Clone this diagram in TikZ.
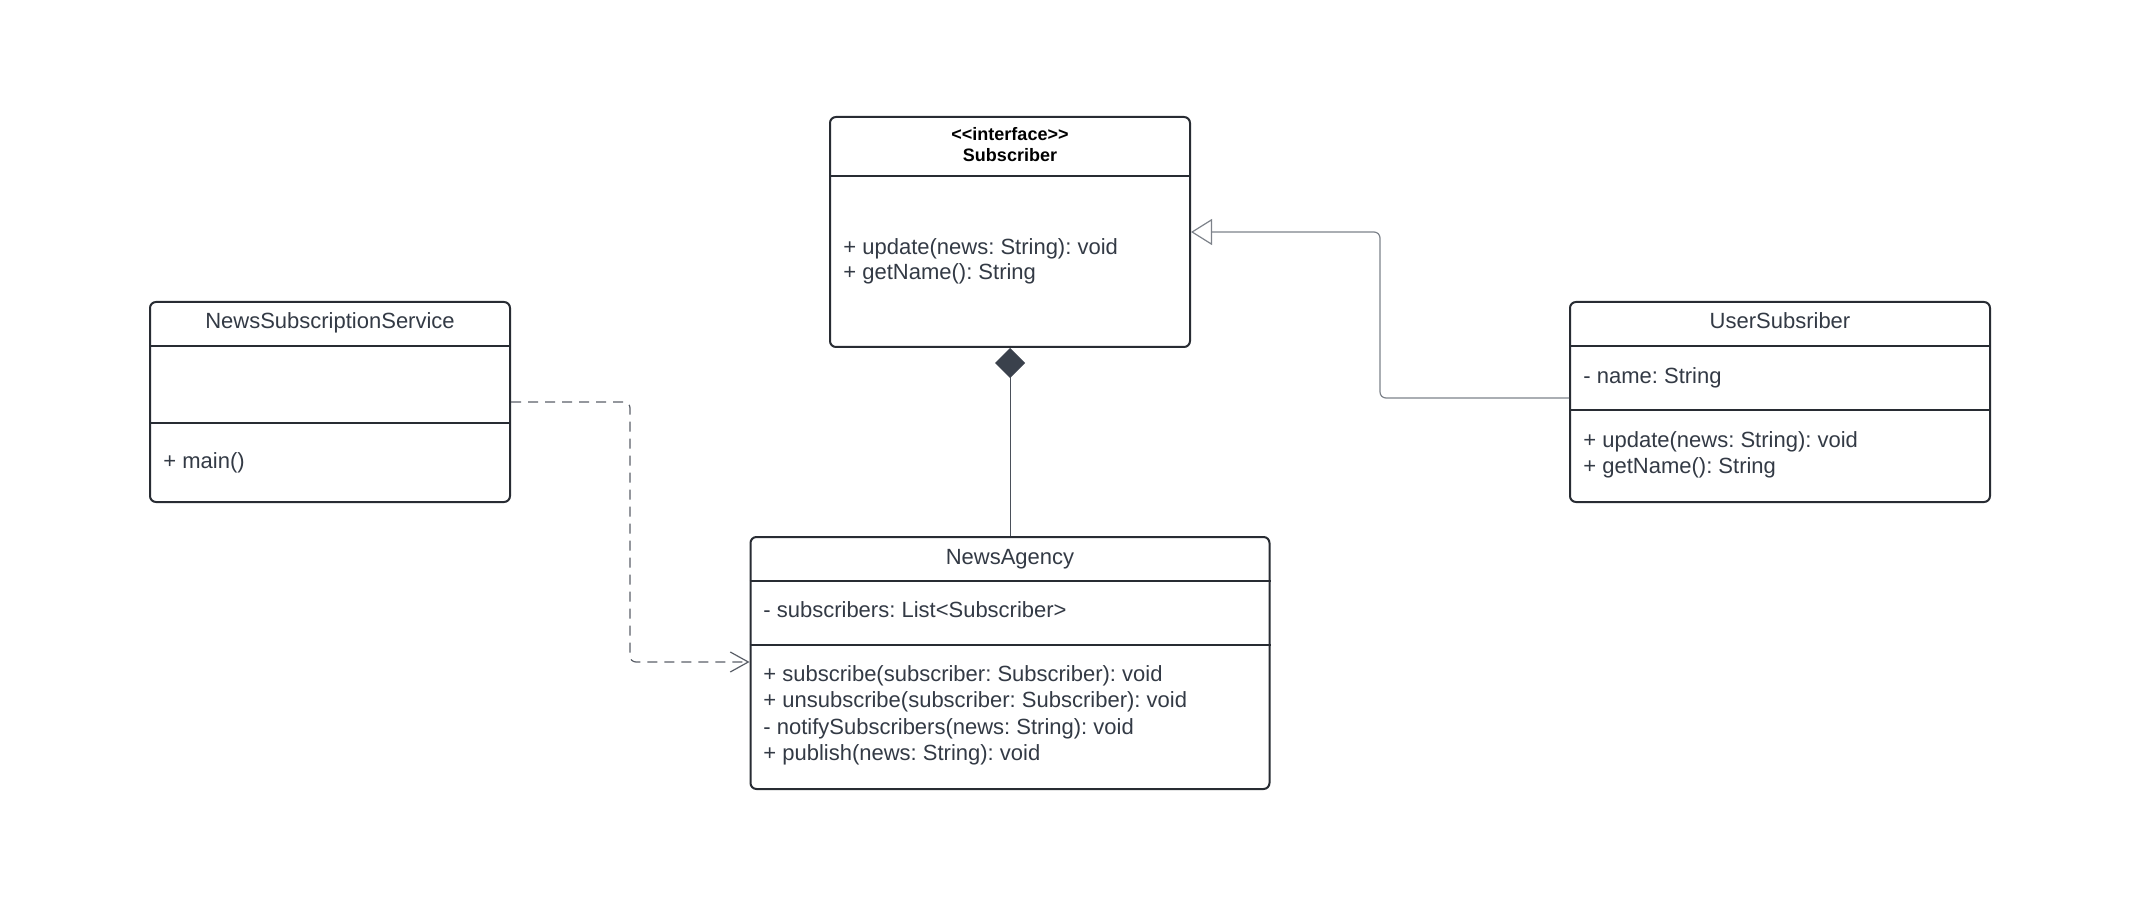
\documentclass[tikz,border=0pt]{standalone}
\usepackage{fontspec}
\setmainfont{Liberation Sans}
\usetikzlibrary{arrows.meta}
\frenchspacing

\definecolor{edge}{HTML}{282C33}
\definecolor{ink}{HTML}{333A45}
\definecolor{diamondfill}{HTML}{3A414C}
\definecolor{genline}{HTML}{7D828A}
\definecolor{depline}{HTML}{5A5F68}
\definecolor{compline}{HTML}{4A505A}

\tikzset{
  classbox/.style={draw=edge, line width=1pt, rounded corners=3pt, fill=white, inner sep=0pt},
  sepline/.style={draw=edge, line width=1pt},
  ctitle/.style={font=\fontsize{11}{13}\selectfont, text=ink, inner sep=0pt, anchor=base},
  member/.style={font=\fontsize{11}{13}\selectfont, text=ink, inner sep=0pt, anchor=base west},
  stereo/.style={font=\fontsize{9}{11}\selectfont\bfseries, text=black, inner sep=0pt, anchor=base},
  comp/.style={draw=compline, line width=0.45pt, -{Diamond[length=15pt,width=15pt,color=diamondfill,fill=diamondfill,line width=0.5pt]}},
  gen/.style={draw=genline, line width=0.6pt, rounded corners=3pt, -{Triangle[open,length=10.5pt,width=13pt,line width=0.6pt]}},
  dep/.style={draw=depline, line width=0.6pt, rounded corners=3pt, dash pattern=on 5pt off 3.5pt, -{Straight Barb[length=9pt,width=10pt,line width=0.6pt]}}
}

\begin{document}
\begin{tikzpicture}[x=0.5pt,y=-0.5pt]
\useasboundingbox (0,0) rectangle (2138,909);

% class boxes
\node[classbox, minimum width=180pt, minimum height=115pt] (sub) at (1010,232) {};
\node[classbox, minimum width=180pt, minimum height=100pt] (nss) at (330,402) {};
\node[classbox, minimum width=210pt, minimum height=100pt] (usr) at (1780,402) {};
\node[classbox, minimum width=259.5pt, minimum height=126pt] (na) at (1010,663) {};

% compartment separators
\draw[sepline] (sub.west |- 0,176) -- (sub.east |- 0,176);
\draw[sepline] (nss.west |- 0,346) -- (nss.east |- 0,346);
\draw[sepline] (nss.west |- 0,423) -- (nss.east |- 0,423);
\draw[sepline] (usr.west |- 0,346) -- (usr.east |- 0,346);
\draw[sepline] (usr.west |- 0,410) -- (usr.east |- 0,410);
\draw[sepline] (na.west |- 0,581) -- (na.east |- 0,581);
\draw[sepline] (na.west |- 0,645) -- (na.east |- 0,645);

% Subscriber interface
\node[stereo] (substereo) at (1010,140.5) {<{}<interface>{}>};
\node[stereo] (subname) at (1010,162) {Subscriber};
\node[member] (subm1) at (843,254.5) {+ update(news: String): void};
\node[member] (subm2) at (843,280) {+ getName(): String};

% NewsSubscriptionService
\node[ctitle] (nssname) at (330,329) {NewsSubscriptionService};
\node[member] (nssm1) at (163,468) {+ main()};

% UserSubsriber
\node[ctitle] (usrname) at (1780,329) {UserSubsriber};
\node[member] (usra1) at (1583,383.5) {- name: String};
\node[member] (usrm1) at (1583,447.5) {+ update(news: String): void};
\node[member] (usrm2) at (1583,473.5) {+ getName(): String};

% NewsAgency
\node[ctitle] (naname) at (1010,564) {NewsAgency};
\node[member] (naa1) at (763,617.5) {- subscribers: List<Subscriber>};
\node[member] (nam1) at (763,681) {+ subscribe(subscriber: Subscriber): void};
\node[member] (nam2) at (763,707.5) {+ unsubscribe(subscriber: Subscriber): void};
\node[member] (nam3) at (763,734) {- notifySubscribers(news: String): void};
\node[member] (nam4) at (763,760.5) {+ publish(news: String): void};

% relations
\draw[comp] (na.north) -- (sub.south);
\draw[gen] (usr.west |- 0,398) -| (1380,315) |- (sub.east);
\draw[dep] (nss.east |- 0,402) -| (630,530) |- (na.west |- 0,662);
\end{tikzpicture}
\end{document}
